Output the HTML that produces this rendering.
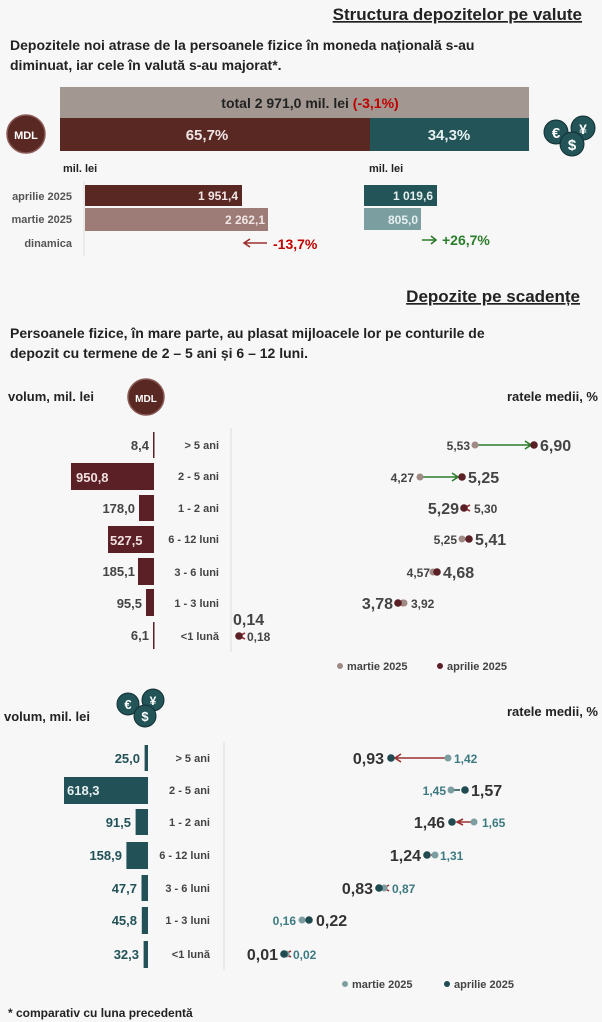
<!DOCTYPE html>
<html><head><meta charset="utf-8"><style>
body{margin:0;background:#f7f7f7;}
svg{display:block;font-family:"Liberation Sans",sans-serif;font-weight:bold;}
</style></head><body>
<svg width="602" height="1022" viewBox="0 0 602 1022">
<rect width="602" height="1022" fill="#f7f7f7"/>
<text x="582" y="20" text-anchor="end" font-size="17" fill="#222" text-decoration="underline">Structura depozitelor pe valute</text>
<text x="10" y="50" font-size="14" fill="#222">Depozitele noi atrase de la persoanele fizice în moneda națională s-au</text>
<text x="10" y="70" font-size="14" fill="#222">diminuat, iar cele în valută s-au majorat*.</text>
<rect x="60" y="87" width="469" height="31" fill="#a39891"/>
<text x="310" y="108" text-anchor="middle" font-size="14" fill="#222">total 2 971,0 mil. lei <tspan fill="#c00000">(-3,1%)</tspan></text>
<rect x="60" y="118" width="310" height="33" fill="#5a2822"/>
<rect x="370" y="118" width="159" height="33" fill="#235458"/>
<text x="207" y="140" text-anchor="middle" font-size="15" fill="#f0e6e6">65,7%</text>
<text x="449" y="140" text-anchor="middle" font-size="15" fill="#e6f0f0">34,3%</text>
<circle cx="26" cy="134" r="19" fill="#5a2822" stroke="#8a5a55" stroke-width="1.5"/>
<text x="26" y="139" text-anchor="middle" font-size="11" fill="#fff">MDL</text>
<g fill="#235458" stroke="#122f32" stroke-width="1">
<circle cx="556" cy="132" r="12"/><circle cx="583" cy="128" r="12"/><circle cx="572" cy="144" r="12"/></g>
<text x="556" y="138" text-anchor="middle" font-size="15" fill="#fff">€</text>
<text x="583" y="134" text-anchor="middle" font-size="14" fill="#fff">¥</text>
<text x="572" y="150" text-anchor="middle" font-size="15" fill="#fff">$</text>
<text x="63" y="172" font-size="11" fill="#222">mil. lei</text>
<text x="369" y="172" font-size="11" fill="#222">mil. lei</text>
<line x1="84" y1="182" x2="84" y2="256" stroke="#ddd"/>
<text x="72" y="200" text-anchor="end" font-size="11" fill="#555">aprilie 2025</text>
<text x="72" y="223" text-anchor="end" font-size="11" fill="#555">martie 2025</text>
<text x="72" y="247" text-anchor="end" font-size="11" fill="#555">dinamica</text>
<rect x="85" y="185" width="157" height="21" fill="#5a2822"/>
<text x="238" y="200" text-anchor="end" font-size="12" fill="#f0e6e6">1 951,4</text>
<rect x="85" y="208" width="183" height="23" fill="#9d7b77"/>
<text x="265" y="224" text-anchor="end" font-size="12" fill="#f0e6e6">2 262,1</text>
<rect x="364" y="185" width="73" height="21" fill="#235458"/>
<text x="433" y="200" text-anchor="end" font-size="12" fill="#e6f0f0">1 019,6</text>
<rect x="364" y="208" width="57" height="22" fill="#7b9ea0"/>
<text x="418" y="224" text-anchor="end" font-size="12" fill="#e6f0f0">805,0</text>
<path d="M267 243 H245 M250 239 L244 243 L250 247" stroke="#9a3030" stroke-width="1.6" fill="none"/>
<text x="273" y="249" font-size="14" fill="#c00000">-13,7%</text>
<path d="M422 240 H435 M431 236 L436 240 L431 244" stroke="#2a7d2a" stroke-width="1.6" fill="none"/>
<text x="442" y="245" font-size="14" fill="#2a7d2a">+26,7%</text>

<text x="580" y="302" text-anchor="end" font-size="17" fill="#222" text-decoration="underline">Depozite pe scadențe</text>
<text x="10" y="338" font-size="14" fill="#222">Persoanele fizice, în mare parte, au plasat mijloacele lor pe conturile de</text>
<text x="10" y="358" font-size="14" fill="#222">depozit cu termene de 2 – 5 ani și 6 – 12 luni.</text>
<text x="8" y="401" font-size="13" fill="#222">volum, mil. lei</text>
<circle cx="146" cy="397" r="18" fill="#5a2822" stroke="#8a5a55" stroke-width="1.5"/>
<text x="146" y="402" text-anchor="middle" font-size="10" fill="#fff">MDL</text>
<text x="598" y="401" text-anchor="end" font-size="13" fill="#222">ratele medii, %</text>
<line x1="231" y1="428" x2="231" y2="652" stroke="#ddd"/>
<g font-size="11" fill="#444" text-anchor="end">
<text x="219" y="449">&gt; 5 ani</text><text x="219" y="480">2 - 5 ani</text><text x="219" y="512">1 - 2 ani</text>
<text x="219" y="543">6 - 12 luni</text><text x="219" y="576">3 - 6 luni</text><text x="219" y="607">1 - 3 luni</text><text x="219" y="640">&lt;1 lună</text></g>
<g fill="#5a2026">
<rect x="153" y="432" width="1.5" height="26"/><rect x="71" y="463" width="83" height="27"/>
<rect x="139" y="495" width="15" height="26"/><rect x="108" y="526" width="46" height="27"/>
<rect x="138" y="558" width="16" height="27"/><rect x="146" y="589" width="8" height="27"/>
<rect x="153" y="622" width="1.5" height="27"/></g>
<g font-size="13" fill="#444" text-anchor="end">
<text x="149" y="450">8,4</text><text x="135" y="513">178,0</text><text x="135" y="576">185,1</text>
<text x="142" y="608">95,5</text><text x="149" y="640">6,1</text></g>
<text x="76" y="482" font-size="13" fill="#f0e0e0">950,8</text>
<text x="110" y="545" font-size="13" fill="#f0e0e0">527,5</text>
<g stroke-width="1.6" fill="none">
<path d="M475 445 H530 M525 441 L531 445 L525 449" stroke="#2a7d2a"/>
<path d="M420 477 H457 M452 473 L458 477 L452 481" stroke="#2a7d2a"/>
<path d="M464 508 L470 505 M464 508 L470 511" stroke="#9a3030"/>
<path d="M462 539 L467 539" stroke="#2a7d2a"/>
<path d="M433 572 L436 571" stroke="#2a7d2a"/>
<path d="M398 603 L403 600 M398 603 L403 606" stroke="#9a3030"/>
<path d="M239 636 L245 633 M239 636 L245 639" stroke="#9a3030"/>
</g>
<g fill="#a08a85"><circle cx="475" cy="445" r="3.5"/><circle cx="420" cy="477" r="3.5"/><circle cx="462" cy="539" r="3.5"/><circle cx="433" cy="572" r="3.5"/><circle cx="404" cy="603" r="3.5"/></g>
<g fill="#5a2026"><circle cx="534" cy="445" r="3.8"/><circle cx="462" cy="477" r="3.8"/><circle cx="464" cy="508" r="3.8"/><circle cx="469" cy="539" r="3.8"/><circle cx="437" cy="572" r="3.8"/><circle cx="398" cy="603" r="3.8"/><circle cx="239" cy="636" r="3.8"/></g>
<g fill="#444">
<text x="470" y="450" text-anchor="end" font-size="12">5,53</text><text x="540" y="451" font-size="16">6,90</text>
<text x="414" y="482" text-anchor="end" font-size="12">4,27</text><text x="468" y="483" font-size="16">5,25</text>
<text x="459" y="514" text-anchor="end" font-size="16">5,29</text><text x="474" y="513" font-size="12">5,30</text>
<text x="457" y="544" text-anchor="end" font-size="12">5,25</text><text x="475" y="545" font-size="16">5,41</text>
<text x="430" y="577" text-anchor="end" font-size="12">4,57</text><text x="443" y="578" font-size="16">4,68</text>
<text x="393" y="609" text-anchor="end" font-size="16">3,78</text><text x="411" y="608" font-size="12">3,92</text>
<text x="233" y="625" font-size="16">0,14</text><text x="247" y="641" font-size="12">0,18</text></g>
<circle cx="340" cy="666" r="3" fill="#a08a85"/><text x="347" y="670" font-size="11" fill="#444">martie 2025</text>
<circle cx="440" cy="666" r="3" fill="#5a2026"/><text x="447" y="670" font-size="11" fill="#444">aprilie 2025</text>

<text x="4" y="721" font-size="13" fill="#222">volum, mil. lei</text>
<g fill="#235458" stroke="#122f32" stroke-width="1">
<circle cx="128" cy="704" r="11"/><circle cx="153" cy="700" r="11"/><circle cx="145" cy="716" r="11"/></g>
<text x="128" y="709" text-anchor="middle" font-size="13" fill="#fff">€</text>
<text x="153" y="705" text-anchor="middle" font-size="12" fill="#fff">¥</text>
<text x="145" y="721" text-anchor="middle" font-size="13" fill="#fff">$</text>
<text x="598" y="716" text-anchor="end" font-size="13" fill="#222">ratele medii, %</text>
<line x1="224" y1="742" x2="224" y2="970" stroke="#ddd"/>
<g font-size="11" fill="#444" text-anchor="end">
<text x="210" y="762">&gt; 5 ani</text><text x="210" y="794">2 - 5 ani</text><text x="210" y="826">1 - 2 ani</text>
<text x="210" y="859">6 - 12 luni</text><text x="210" y="892">3 - 6 luni</text><text x="210" y="924">1 - 3 luni</text><text x="210" y="958">&lt;1 lună</text></g>
<g fill="#225258">
<rect x="144.6" y="745" width="3.4" height="26"/><rect x="64" y="777" width="84" height="27"/>
<rect x="135.6" y="809" width="12.4" height="26"/><rect x="126.4" y="842" width="21.6" height="27"/>
<rect x="141.5" y="875" width="6.5" height="26"/><rect x="141.8" y="907" width="6.2" height="27"/>
<rect x="143.6" y="941" width="4.4" height="27"/></g>
<g font-size="13" fill="#225258" text-anchor="end">
<text x="140" y="763">25,0</text><text x="131" y="827">91,5</text><text x="122" y="860">158,9</text>
<text x="137" y="893">47,7</text><text x="137" y="925">45,8</text><text x="139" y="959">32,3</text></g>
<text x="67" y="795" font-size="13" fill="#e6f0f0">618,3</text>
<g stroke-width="1.6" fill="none">
<path d="M448 758 H396 M401 754 L395 758 L401 762" stroke="#9a3030"/>
<path d="M451 790 H460" stroke="#235458"/>
<path d="M474 822 H458 M463 819 L457 822 L463 825" stroke="#9a3030"/>
<path d="M435 855 H431" stroke="#9a3030"/>
<path d="M384 888 L389 885 M384 888 L389 891" stroke="#9a3030"/>
<path d="M285 954 L291 951 M285 954 L291 957" stroke="#9a3030"/>
</g>
<g fill="#7d9ea1"><circle cx="448" cy="758" r="3.5"/><circle cx="451" cy="790" r="3.5"/><circle cx="474" cy="822" r="3.5"/><circle cx="435" cy="855" r="3.5"/><circle cx="384" cy="888" r="3.5"/><circle cx="302" cy="920" r="3.5"/><circle cx="286" cy="954" r="3.5"/></g>
<g fill="#1e4a50"><circle cx="391" cy="758" r="3.8"/><circle cx="465" cy="790" r="3.8"/><circle cx="452" cy="822" r="3.8"/><circle cx="427" cy="855" r="3.8"/><circle cx="379" cy="888" r="3.8"/><circle cx="309" cy="920" r="3.8"/><circle cx="284" cy="954" r="3.8"/></g>
<g>
<text x="384" y="764" text-anchor="end" font-size="16" fill="#333">0,93</text><text x="454" y="763" font-size="12" fill="#3d7a80">1,42</text>
<text x="446" y="795" text-anchor="end" font-size="12" fill="#3d7a80">1,45</text><text x="471" y="796" font-size="16" fill="#333">1,57</text>
<text x="445" y="828" text-anchor="end" font-size="16" fill="#333">1,46</text><text x="482" y="827" font-size="12" fill="#3d7a80">1,65</text>
<text x="421" y="861" text-anchor="end" font-size="16" fill="#333">1,24</text><text x="440" y="860" font-size="12" fill="#3d7a80">1,31</text>
<text x="373" y="894" text-anchor="end" font-size="16" fill="#333">0,83</text><text x="392" y="893" font-size="12" fill="#3d7a80">0,87</text>
<text x="296" y="925" text-anchor="end" font-size="12" fill="#3d7a80">0,16</text><text x="316" y="926" font-size="16" fill="#333">0,22</text>
<text x="278" y="960" text-anchor="end" font-size="16" fill="#333">0,01</text><text x="293" y="959" font-size="12" fill="#3d7a80">0,02</text></g>
<circle cx="345" cy="984" r="3" fill="#7d9ea1"/><text x="352" y="988" font-size="11" fill="#444">martie 2025</text>
<circle cx="447" cy="984" r="3" fill="#1e4a50"/><text x="454" y="988" font-size="11" fill="#444">aprilie 2025</text>
<text x="8" y="1017" font-size="12" fill="#222">* comparativ cu luna precedentă</text>
</svg>
</body></html>
